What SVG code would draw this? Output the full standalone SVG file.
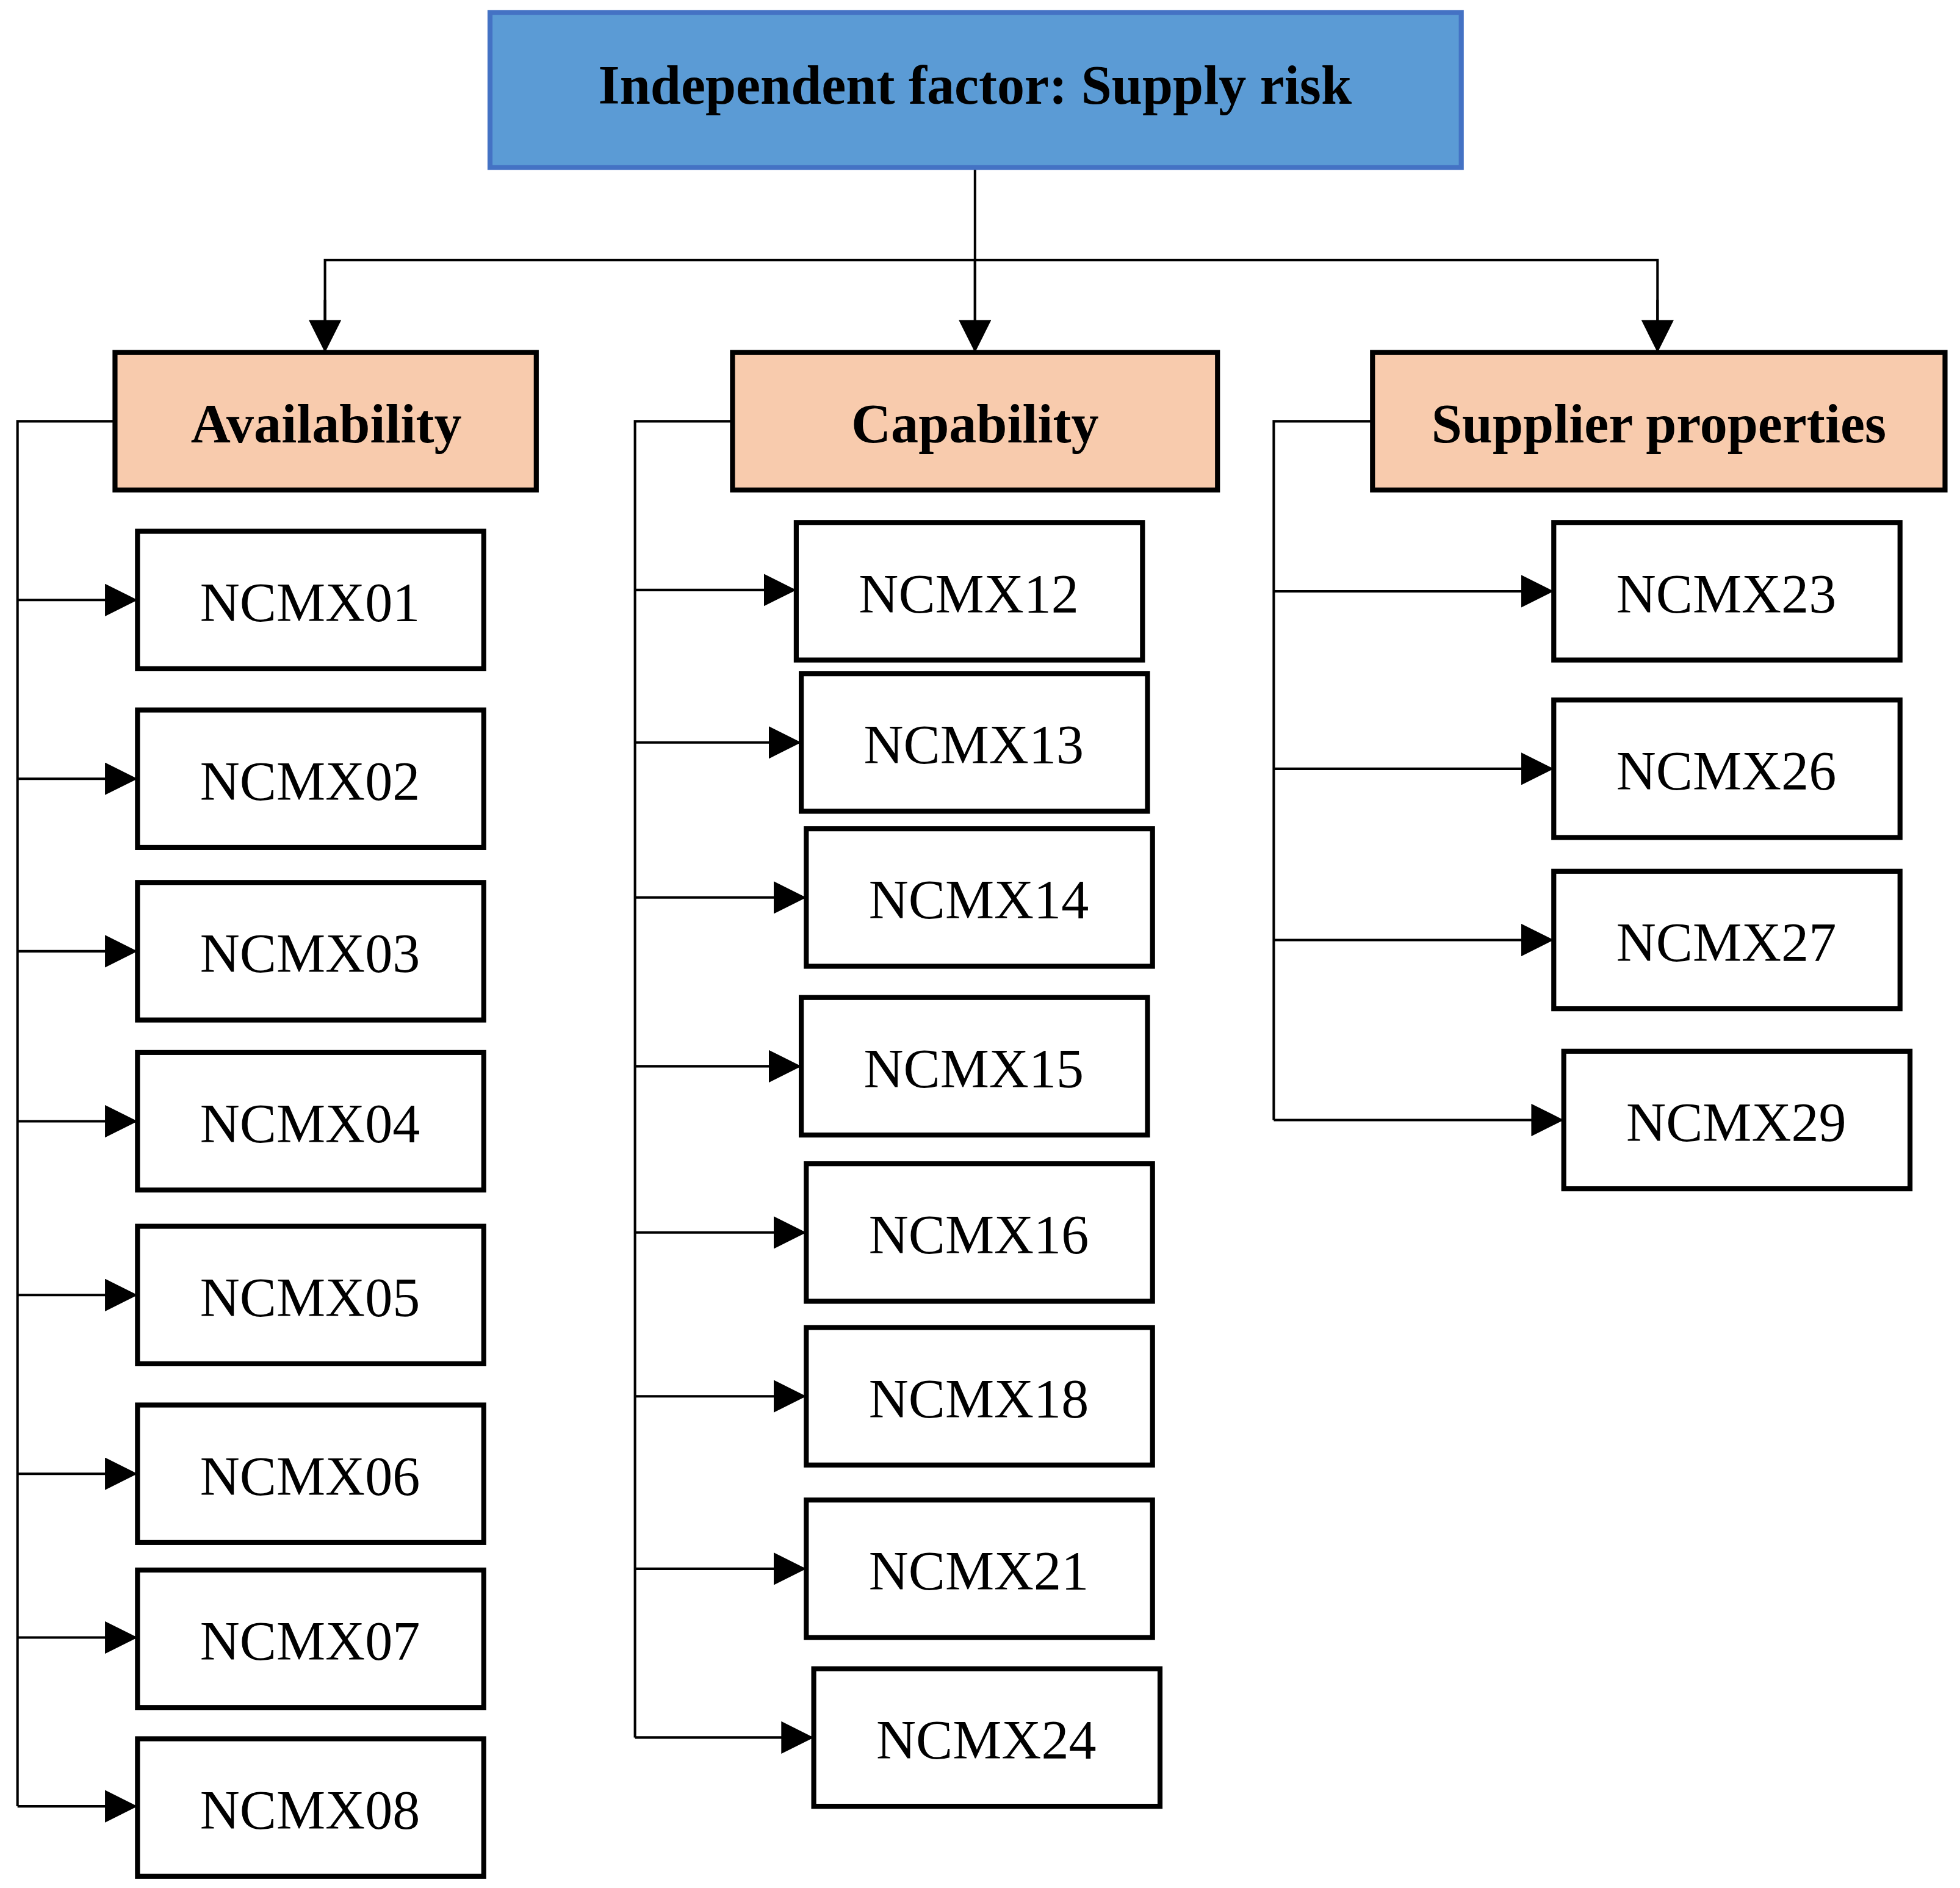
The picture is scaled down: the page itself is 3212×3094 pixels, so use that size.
<svg xmlns="http://www.w3.org/2000/svg" width="3212" height="3094" viewBox="0 0 3212 3094">
<style>
.t{font-family:"Liberation Serif",serif;text-anchor:middle;dominant-baseline:central;fill:#000}
.c{fill:#fff;stroke:#000;stroke-width:4}
.k{fill:#f8cbad;stroke:#000;stroke-width:4}
.l{fill:none;stroke:#000;stroke-width:2}
</style>
<defs><marker id="a" markerUnits="userSpaceOnUse" markerWidth="26" markerHeight="26" refX="26" refY="13" orient="auto"><path d="M0,0L26,13L0,26Z" fill="#000"/></marker></defs>
<rect width="3212" height="3094" fill="#fff"/>
<g transform="scale(2.0485)">
<g id="connectors">
<path class="l" d="M780,134V282"/>
<path class="l" d="M780,208H260V282M780,208H1326V282" />
<path class="l" d="M780,208V282" marker-end="url(#a)"/>
<path class="l" d="M260,240V282" marker-end="url(#a)"/>
<path class="l" d="M1326,240V282" marker-end="url(#a)"/>
<path class="l" d="M92,337H14V1445"/>
<path class="l" d="M14,480H110" marker-end="url(#a)"/>
<path class="l" d="M14,623H110" marker-end="url(#a)"/>
<path class="l" d="M14,761H110" marker-end="url(#a)"/>
<path class="l" d="M14,897H110" marker-end="url(#a)"/>
<path class="l" d="M14,1036H110" marker-end="url(#a)"/>
<path class="l" d="M14,1179H110" marker-end="url(#a)"/>
<path class="l" d="M14,1310H110" marker-end="url(#a)"/>
<path class="l" d="M14,1445H110" marker-end="url(#a)"/>
<path class="l" d="M586,337H508V1390"/>
<path class="l" d="M508,472H637" marker-end="url(#a)"/>
<path class="l" d="M508,594H641" marker-end="url(#a)"/>
<path class="l" d="M508,718H645" marker-end="url(#a)"/>
<path class="l" d="M508,853H641" marker-end="url(#a)"/>
<path class="l" d="M508,986H645" marker-end="url(#a)"/>
<path class="l" d="M508,1117H645" marker-end="url(#a)"/>
<path class="l" d="M508,1255H645" marker-end="url(#a)"/>
<path class="l" d="M508,1390H651" marker-end="url(#a)"/>
<path class="l" d="M1098,337H1019V896"/>
<path class="l" d="M1019,473H1243" marker-end="url(#a)"/>
<path class="l" d="M1019,615H1243" marker-end="url(#a)"/>
<path class="l" d="M1019,752H1243" marker-end="url(#a)"/>
<path class="l" d="M1019,896H1251" marker-end="url(#a)"/>
</g>
<g id="root"><rect x="392" y="10" width="777" height="124" fill="#5b9bd5" stroke="#4472c4" stroke-width="4"/><text class="t" x="780" y="68" font-size="44" font-weight="bold">Independent factor: Supply risk</text></g>
<g id="availability"><rect class="k" x="92" y="282" width="337" height="110"/><text class="t" x="261" y="339" font-size="44" font-weight="bold">Availability</text></g>
<g id="capability"><rect class="k" x="586" y="282" width="388" height="110"/><text class="t" x="780" y="339" font-size="44" font-weight="bold">Capability</text></g>
<g id="supplier"><rect class="k" x="1098" y="282" width="458" height="110"/><text class="t" x="1327" y="339" font-size="44" font-weight="bold">Supplier properties</text></g>
<g id="n01"><rect class="c" x="110" y="425" width="277" height="110"/><text class="t" x="248" y="482" font-size="44">NCMX01</text></g>
<g id="n02"><rect class="c" x="110" y="568" width="277" height="110"/><text class="t" x="248" y="625" font-size="44">NCMX02</text></g>
<g id="n03"><rect class="c" x="110" y="706" width="277" height="110"/><text class="t" x="248" y="763" font-size="44">NCMX03</text></g>
<g id="n04"><rect class="c" x="110" y="842" width="277" height="110"/><text class="t" x="248" y="899" font-size="44">NCMX04</text></g>
<g id="n05"><rect class="c" x="110" y="981" width="277" height="110"/><text class="t" x="248" y="1038" font-size="44">NCMX05</text></g>
<g id="n06"><rect class="c" x="110" y="1124" width="277" height="110"/><text class="t" x="248" y="1181" font-size="44">NCMX06</text></g>
<g id="n07"><rect class="c" x="110" y="1256" width="277" height="110"/><text class="t" x="248" y="1313" font-size="44">NCMX07</text></g>
<g id="n08"><rect class="c" x="110" y="1391" width="277" height="110"/><text class="t" x="248" y="1448" font-size="44">NCMX08</text></g>
<g id="n12"><rect class="c" x="637" y="418" width="277" height="110"/><text class="t" x="775" y="475" font-size="44">NCMX12</text></g>
<g id="n13"><rect class="c" x="641" y="539" width="277" height="110"/><text class="t" x="779" y="596" font-size="44">NCMX13</text></g>
<g id="n14"><rect class="c" x="645" y="663" width="277" height="110"/><text class="t" x="783" y="720" font-size="44">NCMX14</text></g>
<g id="n15"><rect class="c" x="641" y="798" width="277" height="110"/><text class="t" x="779" y="855" font-size="44">NCMX15</text></g>
<g id="n16"><rect class="c" x="645" y="931" width="277" height="110"/><text class="t" x="783" y="988" font-size="44">NCMX16</text></g>
<g id="n18"><rect class="c" x="645" y="1062" width="277" height="110"/><text class="t" x="783" y="1119" font-size="44">NCMX18</text></g>
<g id="n21"><rect class="c" x="645" y="1200" width="277" height="110"/><text class="t" x="783" y="1257" font-size="44">NCMX21</text></g>
<g id="n24"><rect class="c" x="651" y="1335" width="277" height="110"/><text class="t" x="789" y="1392" font-size="44">NCMX24</text></g>
<g id="n23"><rect class="c" x="1243" y="418" width="277" height="110"/><text class="t" x="1381" y="475" font-size="44">NCMX23</text></g>
<g id="n26"><rect class="c" x="1243" y="560" width="277" height="110"/><text class="t" x="1381" y="617" font-size="44">NCMX26</text></g>
<g id="n27"><rect class="c" x="1243" y="697" width="277" height="110"/><text class="t" x="1381" y="754" font-size="44">NCMX27</text></g>
<g id="n29"><rect class="c" x="1251" y="841" width="277" height="110"/><text class="t" x="1389" y="898" font-size="44">NCMX29</text></g>
</g>
</svg>
